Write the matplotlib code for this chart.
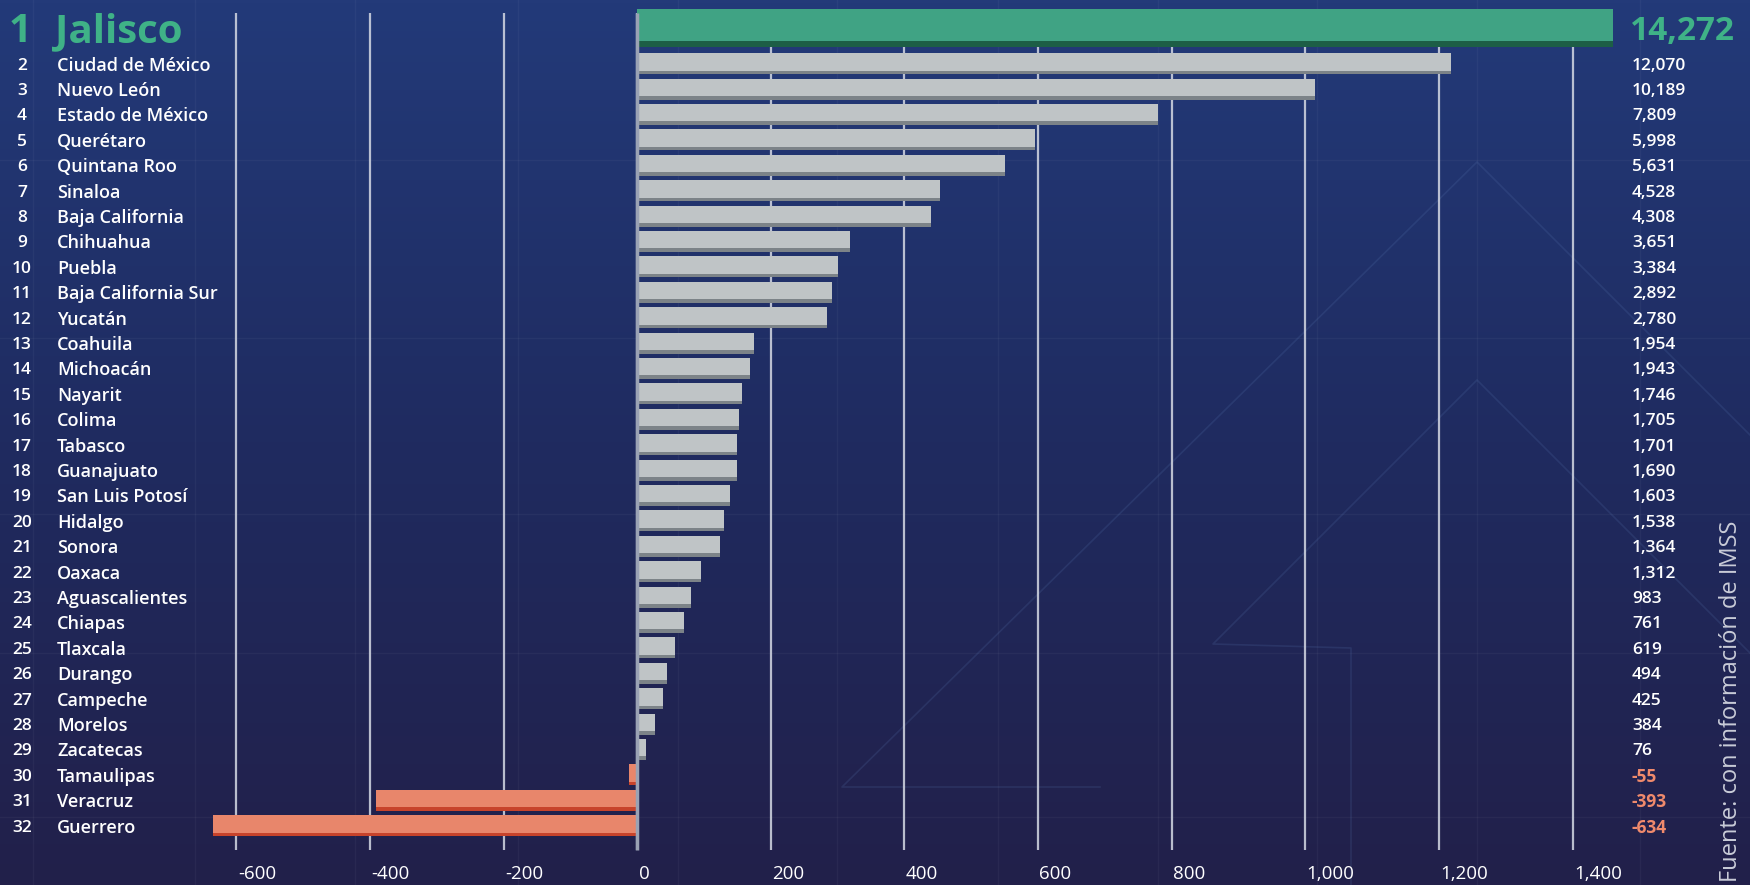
import numpy as np
import matplotlib.pyplot as plt
from matplotlib.colors import LinearSegmentedColormap

plt.rcParams['font.family'] = ['Open Sans', 'DejaVu Sans']

# data
states = ["Jalisco", "Ciudad de México", "Nuevo León", "Estado de México", "Querétaro",
          "Quintana Roo", "Sinaloa", "Baja California", "Chihuahua", "Puebla",
          "Baja California Sur", "Yucatán", "Coahuila", "Michoacán", "Nayarit", "Colima",
          "Tabasco", "Guanajuato", "San Luis Potosí", "Hidalgo", "Sonora", "Oaxaca",
          "Aguascalientes", "Chiapas", "Tlaxcala", "Durango", "Campeche", "Morelos",
          "Zacatecas", "Tamaulipas", "Veracruz", "Guerrero"]
values = [14272, 12070, 10189, 7809, 5998, 5631, 4528, 4308, 3651, 3384, 2892, 2780,
          1954, 1943, 1746, 1705, 1701, 1690, 1603, 1538, 1364, 1312, 983, 761, 619,
          494, 425, 384, 76, -55, -393, -634]
# bar lengths as drawn against the axis
bar_len = [1460, 1218, 1014, 779, 596, 550, 453, 439, 319, 301, 291, 284, 175, 169,
           157, 152, 150, 149, 139, 130, 124, 95, 80, 70, 57, 45, 38, 27, 13, -12,
           -391, -635]
ticks = [-600, -400, -200, 0, 200, 400, 600, 800, 1000, 1200, 1400]
tick_labels = ["-600", "-400", "-200", "0", "200", "400", "600", "800", "1,000",
               "1,200", "1,400"]

W, H = 1750, 885
fig = plt.figure(figsize=(W / 100, H / 100), dpi=100)

# background with gradient and faint decoration (pixel coords)
bg = fig.add_axes([0, 0, 1, 1])
cmap = LinearSegmentedColormap.from_list("bg", ["#233a79", "#1f2b60", "#22204a"])
grad = np.linspace(0, 1, 256).reshape(-1, 1)
bg.imshow(grad, cmap=cmap, aspect='auto', extent=(0, W, H, 0))
bg.set_xlim(0, W)
bg.set_ylim(H, 0)
bg.axis('off')
for gx in [33, 195, 355, 518, 678, 837, 998, 1158, 1317, 1477, 1640]:
    bg.axvline(gx, color='white', alpha=0.04, lw=1)
for gy in [160, 338, 514, 653, 817]:
    bg.axhline(gy, color='white', alpha=0.04, lw=1)
deco = dict(color='#5b7bb5', alpha=0.18, lw=1.2)
bg.plot([1100, 842, 1477, 1760], [787, 787, 162, 445], **deco)
bg.plot([1351, 1351, 1213, 1477, 1760], [890, 648, 644, 380, 663], **deco)

ax = fig.add_axes([0, 0, 1, 1])
ax.patch.set_alpha(0)
ax.set_xlim(-954.0, 1665.7)
ax.set_ylim(H, 0)
ax.axis('off')

n = len(states)
y = np.array([28.0] + [63.6 + 25.4 * k for k in range(n - 1)])
h = np.array([38.0] + [21.0] * (n - 1))
sh = np.array([6.0] + [3.5] * (n - 1))

faces, shades = [], []
for i, v in enumerate(values):
    if i == 0:
        faces.append('#40a384'); shades.append('#1d5e46')
    elif v < 0:
        faces.append('#e8866b'); shades.append('#c7432b')
    else:
        faces.append('#bfc4c6'); shades.append('#7c8388')

ax.vlines(ticks, 13, 850, color='#d5d9e4', lw=1.6, alpha=0.85, zorder=1)
ax.barh(y, bar_len, height=h, color=faces, zorder=3)
ax.barh(y + h / 2 - sh / 2, bar_len, height=sh, color=shades, zorder=4)
ax.vlines(0, 13, 850, color='#9aa2b4', lw=2.5, zorder=5)

for t, lab in zip(ticks, tick_labels):
    ax.text(t + 2, 874, lab, ha='left', va='center', fontsize=13.5, color='white')

yt = ax.get_yaxis_transform()
green = '#3fb287'
salmon = '#f08a6c'
for i, (name, v, yy) in enumerate(zip(states, values, y)):
    if i == 0:
        yy = yy + 3.5
        ax.text(20 / W, yy, "1", transform=yt, ha='center', va='center',
                fontsize=29, fontweight='bold', color=green)
        ax.text(55 / W, yy, name, transform=yt, ha='left', va='center',
                fontsize=29, fontweight='bold', color=green)
        ax.text(1630 / W, yy, f"{v:,}", transform=yt, ha='left', va='center',
                fontsize=24, fontweight='bold', color=green)
        continue
    yy = yy + 2
    ax.text(22 / W, yy, str(i + 1), transform=yt, ha='center', va='center',
            fontsize=12.5, fontweight='semibold', color='white')
    ax.text(57 / W, yy, name, transform=yt, ha='left', va='center',
            fontsize=13, fontweight='semibold', color='white')
    if v < 0:
        ax.text(1632 / W, yy, f"{v:,}", transform=yt, ha='left', va='center',
                fontsize=12.5, fontweight='bold', color=salmon)
    else:
        ax.text(1632 / W, yy, f"{v:,}", transform=yt, ha='left', va='center',
                fontsize=12.5, fontweight='semibold', color='white')

fig.text(1731 / W, 0.003, "Fuente: con información de IMSS", rotation=90,
         ha='center', va='bottom', fontsize=17, color='#c9ccd8')

fig.savefig("out.png", dpi=100)
